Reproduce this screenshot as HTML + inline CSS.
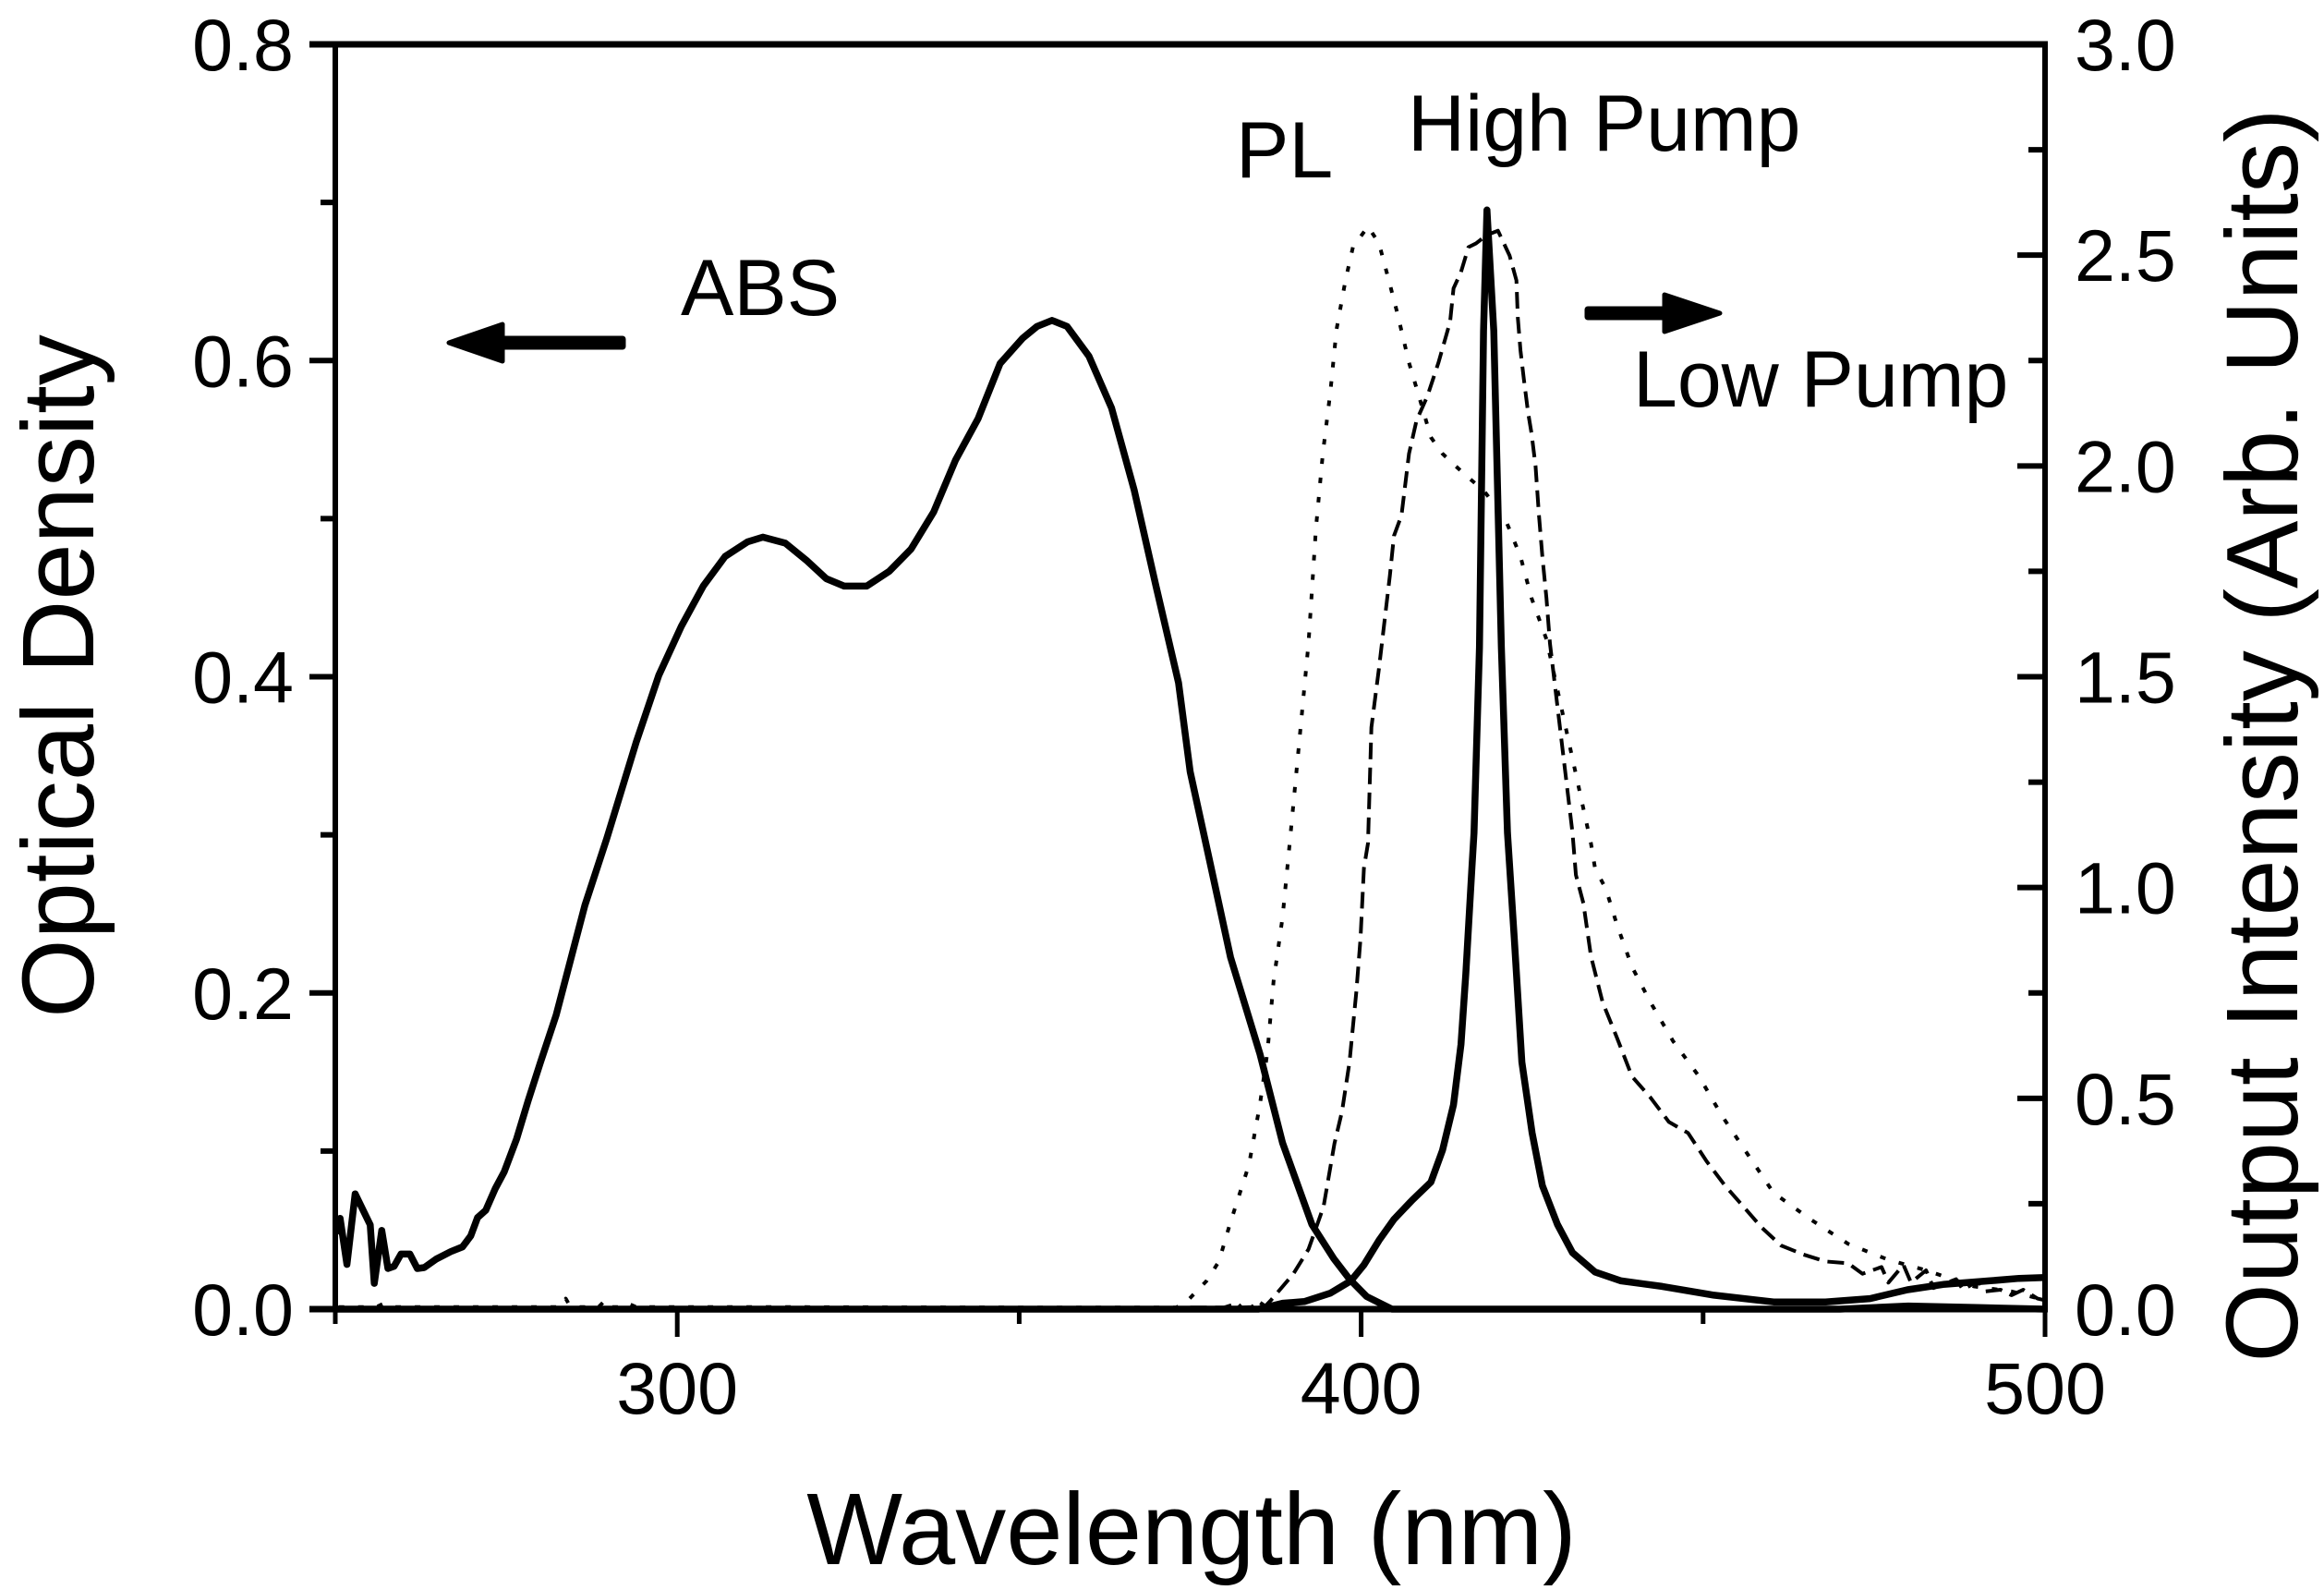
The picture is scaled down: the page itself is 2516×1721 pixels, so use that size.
<!DOCTYPE html>
<html>
<head>
<meta charset="utf-8">
<title>Optical density and output intensity versus wavelength</title>
<style>
html,body{margin:0;padding:0;background:#fff;}
svg{display:block;}
text{font-family:"Liberation Sans",sans-serif;fill:#000;}
</style>
</head>
<body>
<svg id="chart" xmlns="http://www.w3.org/2000/svg" width="2516" height="1721" viewBox="0 0 2516 1721">
  <rect x="0" y="0" width="2516" height="1721" fill="#fff"/>
  <g id="series" fill="none" stroke="#000" stroke-linejoin="round"></g>
  <g id="axes" stroke="#000" fill="none"></g>
  <g id="labels"></g>
  <text x="1290" y="1693" font-size="110" text-anchor="middle">Wavelength (nm)</text>
  <text transform="translate(101 732) rotate(-90)" font-size="110" text-anchor="middle">Optical Density</text>
  <text transform="translate(2487 796) rotate(-90)" font-size="110" text-anchor="middle">Output Intensity (Arb. Units)</text>
  <text x="737" y="341" font-size="86">ABS</text>
  <text x="1338" y="192" font-size="86">PL</text>
  <text x="1524" y="163" font-size="86">High Pump</text>
  <text x="1768" y="440" font-size="86">Low Pump</text>
  <g fill="#000" stroke="#000" stroke-linejoin="round">
    <rect x="540" y="364" width="137" height="14" rx="3"/>
    <polygon points="486,371 544,351 544,391" stroke-width="5"/>
  </g>
  <g fill="#000" stroke="#000" stroke-linejoin="round">
    <rect x="1716" y="332" width="90" height="14" rx="3"/>
    <polygon points="1862,339 1802,319 1802,359" stroke-width="5"/>
  </g>
</svg>
<script>
var absWavelengths = [250.2,250.7,251.7,252.9,255.1,255.7,256.8,257.7,258.6,259.6,260.9,262,263,264.8,266.9,268.6,269.8,270.8,272,273.4,274.7,276.5,278.2,280,282.3,286.5,289.7,294,297.3,300.6,303.8,307,310.3,312.5,315.8,319,321.8,324.4,327.7,331,334.2,337.5,340.7,344,347.2,350.5,352.6,354.8,357,360.2,363.5,366.8,370,373.3,375,377.6,380.9,385.2,388.5,392.8,396,398.3,400.8,404.5,420,470,480,490,500];
var absValues = [0.0475,0.0574,0.0283,0.0729,0.0533,0.0163,0.0498,0.0257,0.0271,0.0348,0.0348,0.0257,0.0263,0.0318,0.0364,0.0394,0.0463,0.0579,0.0625,0.0764,0.0869,0.1075,0.1319,0.1561,0.186,0.2554,0.2977,0.3587,0.4009,0.4319,0.4573,0.4761,0.4854,0.4883,0.4845,0.4732,0.462,0.4573,0.4573,0.4667,0.4808,0.5042,0.5371,0.5634,0.5981,0.6141,0.6216,0.6254,0.6216,0.6028,0.57,0.5183,0.4573,0.3962,0.3399,0.2883,0.2225,0.1615,0.1052,0.0535,0.0319,0.019,0.008,0,0,0,0.002,0.001,0];

var highWavelengths = [250,385,388.5,391.7,395.5,398.5,400.4,402.6,404.8,407.5,410.2,411.9,413.5,414.6,415.3,416.2,416.5,417.3,417.9,418.4,419.4,420.5,421.4,422.4,423.5,425,426.5,428.7,430.9,434.2,438,444,451.6,460.3,467.9,474.4,479.9,485.3,491.8,496.2,500];
var highValues = [0,0,0.014,0.018,0.038,0.067,0.105,0.163,0.213,0.259,0.301,0.377,0.485,0.628,0.795,1.046,1.13,1.57,2.32,2.607,2.32,1.57,1.13,0.879,0.586,0.418,0.293,0.201,0.134,0.088,0.067,0.054,0.033,0.017,0.017,0.025,0.046,0.059,0.067,0.073,0.075];

var lowWavelengths = [375,380,381.9,382.5,384,385,386,386.8,390.1,392.3,394.5,396.1,397.2,398.3,399.3,399.9,400.4,401,401.5,402.6,404.2,404.8,405.9,407,408.1,409.7,411.3,413,413.5,414.6,415.7,416.8,418.4,420,421.7,422.7,422.9,423.3,423.8,424.4,424.9,425.5,426,426.5,427.1,427.6,430.9,431.4,432.5,433.6,435.3,437.4,439.6,442.3,445,447.8,450.5,453.2,455.9,458.6,461.4,464.6,467.9,471.2,473.3,476.1,477.1,479.3,480.4,482.6,483.7,487,488,490.2,491.3,493.5,495.1,496.8,498.9,500];
var lowValues = [0.004,0.004,0.014,0.004,0.005,0.018,0.007,0.021,0.084,0.142,0.243,0.393,0.469,0.586,0.753,0.879,1.046,1.105,1.38,1.52,1.74,1.834,1.883,2.029,2.108,2.166,2.245,2.342,2.421,2.46,2.519,2.528,2.548,2.558,2.499,2.44,2.352,2.274,2.205,2.127,2.078,2,1.883,1.785,1.687,1.579,1.13,1.03,0.963,0.837,0.728,0.644,0.552,0.502,0.444,0.418,0.351,0.293,0.243,0.193,0.151,0.13,0.113,0.109,0.084,0.1,0.063,0.105,0.063,0.092,0.05,0.071,0.046,0.067,0.042,0.046,0.033,0.046,0.025,0.021];

var plWavelengths = [250.5,256,256.9,257.6,270,283,283.7,284.4,288.5,289.5,290.5,292.5,293,294,310,350,373,374.9,377.4,379.2,380.8,383.6,385.2,386.3,387.2,388.5,389.6,392.3,393.4,394.4,395.5,396.4,397.7,398.8,401,402.6,404.2,405.3,407,408.6,410.2,411.9,414.8,418,421.1,423.3,424.9,427.1,433.6,434.2,435.8,437.4,439.6,442.3,445.6,449.4,452.7,456.5,460.3,465.7,471.2,477.1,482.6,489.6,495.1,500];
var plValues = [0.005,0.005,0.012,0.005,0.005,0.005,0.025,0.005,0.005,0.022,0.005,0.005,0.012,0.005,0.005,0.004,0.004,0.025,0.067,0.113,0.201,0.343,0.485,0.611,0.778,0.929,1.113,1.579,1.853,2.029,2.176,2.323,2.44,2.519,2.568,2.528,2.431,2.362,2.245,2.157,2.068,2.029,1.985,1.94,1.873,1.785,1.687,1.589,1.105,1.046,0.996,0.912,0.812,0.728,0.636,0.552,0.46,0.368,0.276,0.213,0.155,0.117,0.092,0.054,0.042,0.021];

var xMajorTicks = [300,400,500];
var xMinorTicks = [250,350,450];
var xTickLabels = ["300","400","500"];
var leftMajorTicks = [0,0.2,0.4,0.6,0.8];
var leftMinorTicks = [0.1,0.3,0.5,0.7];
var leftTickLabels = ["0.0","0.2","0.4","0.6","0.8"];
var rightMajorTicks = [0,0.5,1,1.5,2,2.5,3];
var rightMinorTicks = [0.25,0.75,1.25,1.75,2.25,2.75];
var rightTickLabels = ["0.0","0.5","1.0","1.5","2.0","2.5","3.0"];

var NS = 'http://www.w3.org/2000/svg';
var plotLeft = 363, plotRight = 2214, plotTop = 48, plotBottom = 1417;
function xScale(nm){ return plotLeft + (nm - 250) / 250 * (plotRight - plotLeft); }
function yLeft(v){ return plotBottom - v / 0.8 * (plotBottom - plotTop); }
function yRight(v){ return plotBottom - v / 3 * (plotBottom - plotTop); }

var seriesGroup = document.getElementById('series');
var axesGroup = document.getElementById('axes');
var labelsGroup = document.getElementById('labels');

function addSeries(name, xs, ys, yFn, width, dash){
  var p = document.createElementNS(NS, 'polyline');
  var pts = [];
  for (var i = 0; i < xs.length; i++) {
    pts.push(xScale(xs[i]).toFixed(1) + ',' + yFn(ys[i]).toFixed(1));
  }
  p.setAttribute('points', pts.join(' '));
  p.setAttribute('stroke-width', width);
  if (dash) { p.setAttribute('stroke-dasharray', dash); }
  
  
  seriesGroup.appendChild(p);
}
addSeries('pl-curve', plWavelengths, plValues, yRight, 4, '6 15');
addSeries('low-pump-curve', lowWavelengths, lowValues, yRight, 4, '18 9');
addSeries('abs-curve', absWavelengths, absValues, yLeft, 7.5);
addSeries('high-pump-curve', highWavelengths, highValues, yRight, 7.5);

function addLine(name, x1, y1, x2, y2, width){
  var l = document.createElementNS(NS, 'line');
  l.setAttribute('x1', x1);
  l.setAttribute('y1', y1);
  l.setAttribute('x2', x2);
  l.setAttribute('y2', y2);
  l.setAttribute('stroke-width', width);
  
  
  axesGroup.appendChild(l);
}
addLine('top-axis-line', plotLeft - 28, plotTop, plotRight + 3, plotTop, 7);
addLine('bottom-axis-line', plotLeft - 28, plotBottom, plotRight + 3, plotBottom, 7);
addLine('left-axis-line', plotLeft, plotTop, plotLeft, plotBottom, 6);
addLine('right-axis-line', plotRight, plotTop, plotRight, plotBottom, 6);

xMajorTicks.forEach(function(v){ addLine('x-major-tick', xScale(v), plotBottom, xScale(v), plotBottom + 30, 5); });
xMinorTicks.forEach(function(v){ addLine('x-minor-tick', xScale(v), plotBottom, xScale(v), plotBottom + 16, 5); });
leftMajorTicks.forEach(function(v){ addLine('left-major-tick', plotLeft - 28, yLeft(v), plotLeft, yLeft(v), 6); });
leftMinorTicks.forEach(function(v){ addLine('left-minor-tick', plotLeft - 16, yLeft(v), plotLeft, yLeft(v), 6); });
rightMajorTicks.forEach(function(v){ addLine('right-major-tick', plotRight - 30, yRight(v), plotRight, yRight(v), 6); });
rightMinorTicks.forEach(function(v){ addLine('right-minor-tick', plotRight - 18, yRight(v), plotRight, yRight(v), 6); });

function addLabel(name, txt, x, y, anchor){
  var t = document.createElementNS(NS, 'text');
  t.setAttribute('x', x);
  t.setAttribute('y', y);
  t.setAttribute('font-size', '79');
  t.setAttribute('text-anchor', anchor);
  
  
  t.textContent = txt;
  labelsGroup.appendChild(t);
}
xMajorTicks.forEach(function(v, i){ addLabel('x-tick-label', xTickLabels[i], xScale(v), 1530, 'middle'); });
leftMajorTicks.forEach(function(v, i){ addLabel('left-tick-label', leftTickLabels[i], 318, yLeft(v) + 28, 'end'); });
rightMajorTicks.forEach(function(v, i){ addLabel('right-tick-label', rightTickLabels[i], 2246, yRight(v) + 28, 'start'); });
</script>
</body>
</html>
